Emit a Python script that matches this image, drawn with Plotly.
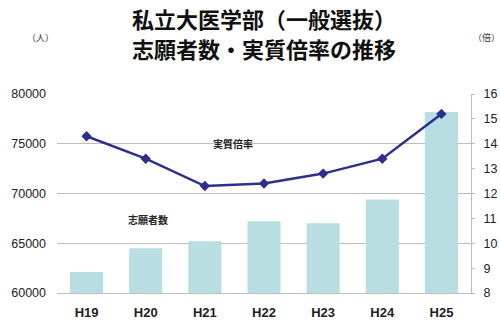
import plotly.graph_objects as go

years = ["H19", "H20", "H21", "H22", "H23", "H24", "H25"]
applicants = [62100, 64500, 65200, 67200, 67000, 69400, 78200]
ratio = [14.3, 13.4, 12.3, 12.4, 12.8, 13.4, 15.2]
title_lines = ["私立大医学部（一般選抜）", "志願者数・実質倍率の推移"]

FONT = "Liberation Sans, Arial, sans-serif"
CJK = "Noto Sans CJK JP, sans-serif"

fig = go.Figure()
fig.add_trace(go.Bar(x=years, y=applicants, marker_color="#B8DEE1",
                     marker_line_width=0, name="志願者数", yaxis="y"))
fig.add_trace(go.Scatter(x=years, y=ratio, mode="lines+markers", yaxis="y2",
                         line=dict(color="#2E2F8C", width=2.5),
                         marker=dict(symbol="diamond", size=8, color="#2E2F8C"),
                         name="実質倍率"))

fig.update_layout(
    width=500, height=321,
    margin=dict(l=57, r=29, t=94, b=28),
    paper_bgcolor="white", plot_bgcolor="white",
    showlegend=False, bargap=0.44,
    xaxis=dict(showgrid=False, showline=True, linecolor="#BDBDBD", linewidth=1,
               tickfont=dict(family=FONT, size=13, color="#222222", weight="bold"),
               ticks="", ticklabelstandoff=7, automargin=False),
    yaxis=dict(range=[60000, 80000], dtick=5000, tickformat="d", showgrid=True,
               gridcolor="#BEBEBE", gridwidth=1, showline=False, zeroline=False, ticks="",
               tickfont=dict(family=FONT, size=12.5, color="#222222"),
               ticklabelstandoff=10, automargin=False),
    yaxis2=dict(range=[8, 16], dtick=1, overlaying="y", side="right", showgrid=False,
                showline=True, linecolor="#BDBDBD", linewidth=1, zeroline=False,
                ticks="outside", ticklen=3, tickcolor="#BDBDBD",
                tickfont=dict(family=FONT, size=12.5, color="#222222"),
                ticklabelstandoff=6, automargin=False),
)

# Title (two lines)
for line, shift in zip(title_lines, [76, 46]):
    fig.add_annotation(text="<b>" + line + "</b>",
                       x=0.5, y=1.0, xref="paper", yref="paper", yshift=shift,
                       xanchor="center", yanchor="middle", showarrow=False,
                       font=dict(family=CJK, size=22, color="#111111"))

ann_small = dict(showarrow=False, font=dict(family=CJK, size=10, color="#222222", weight="bold"))
fig.add_annotation(text="実質倍率", x=2.0, y=14.0, xref="x", yref="y2",
                   xshift=28, **ann_small)
fig.add_annotation(text="志願者数", x=1.0, y=67700, xref="x", yref="y",
                   xshift=2, yshift=-3, **ann_small)
fig.add_annotation(text="（人）", x=-0.04, y=1.0, xref="paper", yref="paper",
                   yshift=57, xanchor="center", yanchor="middle", showarrow=False,
                   font=dict(family=CJK, size=9, color="#333333"))
fig.add_annotation(text="（倍）", x=1.0, y=1.0, xref="paper", yref="paper",
                   xshift=15, yshift=57, xanchor="center", yanchor="middle", showarrow=False,
                   font=dict(family=CJK, size=9, color="#333333"))

fig.write_html("out.html")
